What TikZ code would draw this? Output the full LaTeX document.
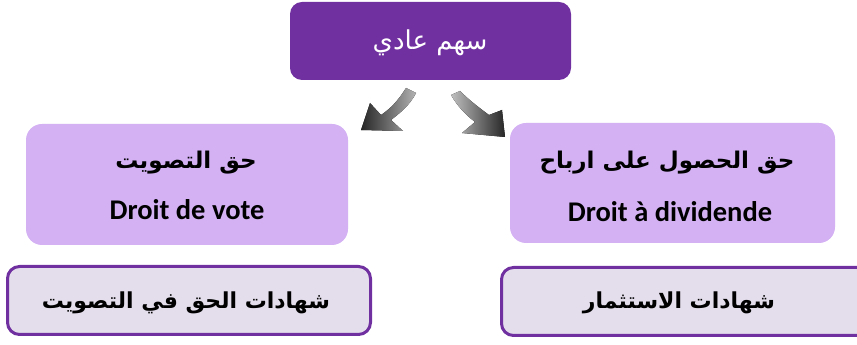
\documentclass[tikz,border=0pt]{standalone}
\usepackage{fontspec}
\setmainfont{Carlito}
\newfontfamily\arabicfont[Script=Arabic]{DejaVu Sans}
\TeXXeTstate=1
\definecolor{topviolet}{HTML}{7030A0}
\definecolor{lilac}{HTML}{D3B1F3}
\definecolor{paleviolet}{HTML}{E4DEEC}
\tikzset{
  topbox/.style={draw=none, fill=topviolet, rounded corners=12pt, minimum width=281pt, minimum height=78pt, inner sep=0pt},
  midbox/.style={draw=none, fill=lilac, rounded corners=16pt, inner sep=0pt},
  lowbox/.style={draw=topviolet, line width=3pt, fill=paleviolet, rounded corners=12pt, minimum height=68pt, inner sep=0pt},
  artext/.style={inner sep=0pt, font=\arabicfont\bfseries\fontsize{23}{26}\selectfont},
  lowtext/.style={inner sep=0pt, font=\arabicfont\bfseries\fontsize{22}{26}\selectfont},
  latext/.style={inner sep=0pt, anchor=base, font=\bfseries\fontsize{28.5}{32}\selectfont}
}
\begin{document}
\begin{tikzpicture}[x=1pt,y=1pt]
\useasboundingbox (0,0) rectangle (857,345);
\clip (0,0) rectangle (857,345);

% top box
\node[topbox] (share) at (430.5,304) {};
\node[inner sep=0pt, text=white, font=\arabicfont\fontsize{26}{30}\selectfont] (sharetxt) at (430,302) {\beginR سهم عادي\endR};

% middle boxes
\node[midbox, minimum width=322pt, minimum height=121pt] (vote) at (187,160.5) {};
\node[artext] (votear) at (186,182) {\beginR حق التصويت\endR};
\node[latext] (votefr) at (187,125) {Droit de vote};

\node[midbox, minimum width=325pt, minimum height=120pt] (divid) at (672.5,162) {};
\node[artext] (dividar) at (667,182) {\beginR حق الحصول على ارباح\endR};
\node[latext] (dividfr) at (670,123) {Droit à dividende};

% lower boxes
\node[lowbox, minimum width=363pt] (vcert) at (189,44.5) {};
\node[lowtext] (vcerttxt) at (186,42) {\beginR شهادات الحق في التصويت\endR};
\node[lowbox, minimum width=378.5pt] (icert) at (690.75,43.5) {};
\node[lowtext] (icerttxt) at (679,42) {\beginR شهادات الاستثمار\endR};

% curved block arrows
\fill[left color=black!85, right color=black!30]
  (406,257) .. controls (398,244) and (390,236) .. (381,230)
  -- (370,242) -- (361,215) -- (403,214) -- (391,225)
  .. controls (400,232) and (410,240) .. (416,252) -- cycle;
\fill[left color=black!25, right color=black!85]
  (451,250) .. controls (458,238) and (466,230) .. (475,223)
  -- (462,212) -- (505,208) -- (502,235) -- (489,230)
  .. controls (478,238) and (468,246) .. (460,254) -- cycle;
\end{tikzpicture}
\end{document}
